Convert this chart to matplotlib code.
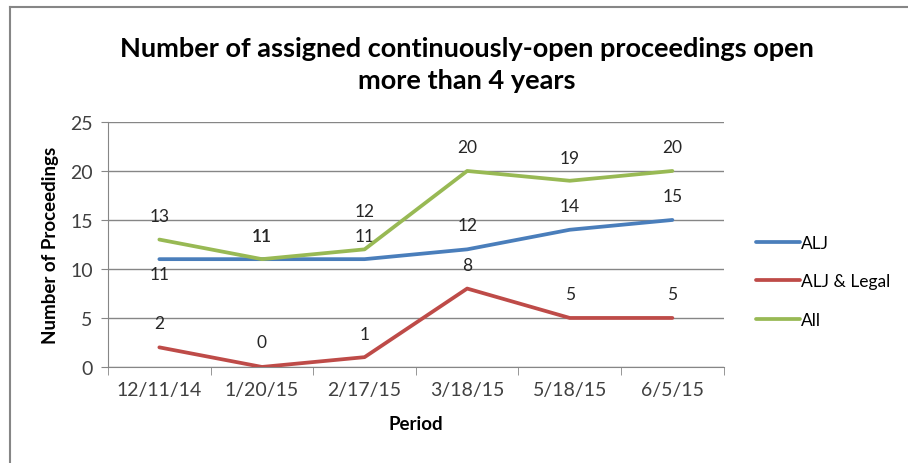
import matplotlib
matplotlib.use("Agg")
import matplotlib.pyplot as plt
from matplotlib.lines import Line2D

plt.rcParams['font.family'] = ['Lato', 'DejaVu Sans']

periods = ["12/11/14", "1/20/15", "2/17/15", "3/18/15", "5/18/15", "6/5/15"]
alj = [11, 11, 11, 12, 14, 15]
alj_legal = [2, 0, 1, 8, 5, 5]
all_proc = [13, 11, 12, 20, 19, 20]

# label offsets in pixels (Excel put them mostly above the points)
off_alj = [-15, 23, 23, 24, 24, 24]
off_legal = [24, 25, 23, 24, 24, 24]
off_all = [24, 23, 38, 24, 23, 24]

fig = plt.figure(figsize=(9.08, 4.64), dpi=100)
ax = fig.add_axes([0.119, 0.207, 0.678, 0.528])

x = list(range(len(periods)))
series = [
    ("ALJ", alj, "#4A7EBB", off_alj),
    ("ALJ & Legal", alj_legal, "#BE4B48", off_legal),
    ("All", all_proc, "#98B954", off_all),
]
for name, vals, col, offs in series:
    ax.plot(x, vals, color=col, lw=2.7, label=name, solid_capstyle="round", zorder=3)
    for xi, v, o in zip(x, vals, offs):
        ax.annotate(str(v), (xi, v), xytext=(0, o), textcoords="offset pixels",
                    ha="center", va="center", fontsize=12.5, color="#262626")

ax.set_xlim(-0.5, len(periods) - 0.5)
ax.set_ylim(0, 25)
ax.set_yticks(range(0, 26, 5))
ax.set_xticks(x)
ax.set_xticklabels(periods)
ax.set_xticks([i - 0.5 for i in range(len(periods) + 1)], minor=True)
ax.tick_params(axis="x", which="major", length=0, pad=10, labelsize=14, labelcolor="#404040")
ax.tick_params(axis="x", which="minor", length=6, color="#868686")
ax.tick_params(axis="y", length=5, color="#868686", labelsize=14, labelcolor="#404040", pad=6)
ax.grid(axis="y", color="#868686", lw=1)
ax.set_axisbelow(True)
for s in ["top", "right"]:
    ax.spines[s].set_visible(False)
for s in ["left", "bottom"]:
    ax.spines[s].set_color("#868686")

ax.set_xlabel("Period", fontsize=13.5, fontweight="bold", labelpad=12)
ax.set_ylabel("Number of Proceedings", fontsize=13.5, fontweight="bold", labelpad=8)

fig.text(0.514, 0.86, "Number of assigned continuously-open proceedings open\nmore than 4 years",
         ha="center", va="center", fontsize=19.5, fontweight="bold", linespacing=1.4)

ax.legend(loc="center left", bbox_to_anchor=(1.053, 0.35), frameon=False, fontsize=12.5,
          handlelength=2.5, handletextpad=0.1, labelspacing=1.3,
          borderpad=0, borderaxespad=0)

# chart border (only left and top show in the crop)
fig.add_artist(Line2D([10 / 908, 10 / 908], [0, 1 - 8 / 464], color="#868686", lw=1.5))
fig.add_artist(Line2D([10 / 908, 1], [1 - 8 / 464, 1 - 8 / 464], color="#868686", lw=1.5))

fig.savefig("out.png", dpi=100)
